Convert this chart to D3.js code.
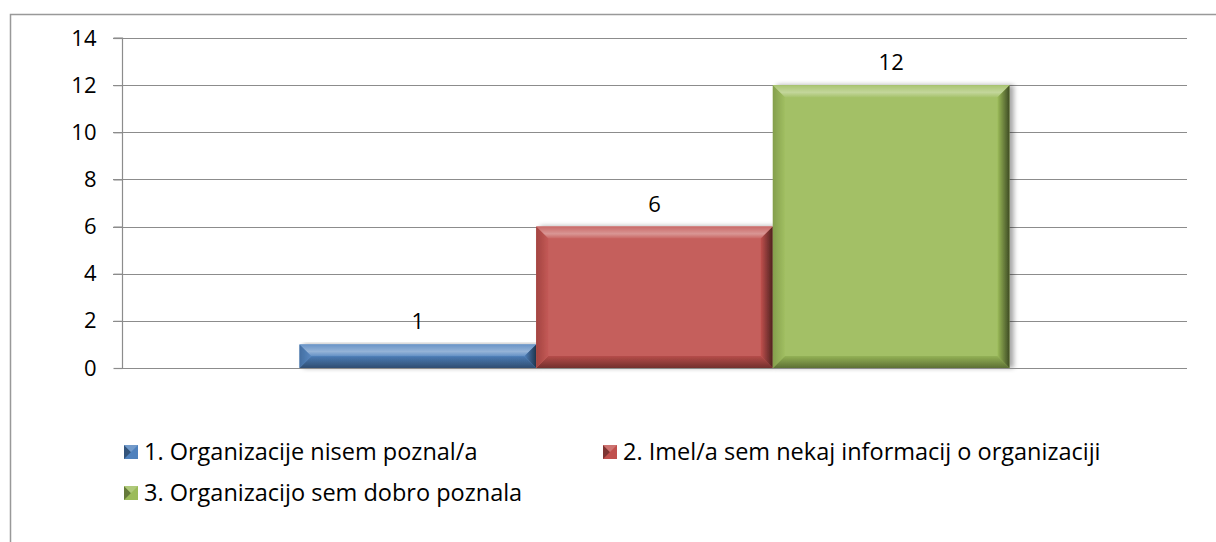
<!DOCTYPE html>
<html><head><meta charset="utf-8">
<script src="https://cdn.jsdelivr.net/npm/d3@7"></script>
<style>body{margin:0;background:#fff}svg{display:block}text{font-family:"Open Sans",sans-serif;fill:#000}</style>
</head><body>
<svg id="c" width="1216" height="542"></svg>
<script>
const seriesNames = ["1. Organizacije nisem poznal/a","2. Imel/a sem nekaj informacij o organizaciji","3. Organizacijo sem dobro poznala"];
const seriesValues = [1, 6, 12];
const seriesColors = ["#4F81BD","#C0504D","#9BBB59"];
const yTicks = [0,2,4,6,8,10,12,14];

const svg = d3.select("#c");
const defs = svg.append("defs");
const f = defs.append("filter").attr("id","sh").attr("x","-10%").attr("y","-10%").attr("width","130%").attr("height","130%");
f.append("feGaussianBlur").attr("in","SourceAlpha").attr("stdDeviation",2.5).attr("result","b");
f.append("feOffset").attr("dx",4).attr("dy",0).attr("result","o");
f.append("feComponentTransfer").append("feFuncA").attr("type","linear").attr("slope",0.35);
const m = f.append("feMerge"); m.append("feMergeNode"); m.append("feMergeNode").attr("in","SourceGraphic");

svg.append("rect").attr("x",10.5).attr("y",14.5).attr("width",1220).attr("height",560).attr("fill","none").attr("stroke","#999").attr("stroke-width",1.5);

const L = 122, R = 1187, T = 38, B = 368;
const y = d3.scaleLinear().domain([0,14]).range([B,T]);
const x0 = d3.scaleBand().domain(["c"]).range([L,R]).paddingInner(0).paddingOuter(0.25);
const x1 = d3.scaleBand().domain(seriesNames).range([x0("c"), x0("c")+x0.bandwidth()]);

svg.append("g").selectAll("line").data(yTicks.filter(d=>d>0)).join("line")
  .attr("x1",L-9).attr("x2",R).attr("y1",d=>Math.round(y(d))+0.5).attr("y2",d=>Math.round(y(d))+0.5)
  .attr("stroke","#8c8c8c").attr("stroke-width",1.2);
const ya = svg.append("g").attr("transform",`translate(${L+0.5},0)`)
  .call(d3.axisLeft(y).tickValues(yTicks).tickSize(9).tickPadding(17));
ya.select(".domain").attr("stroke","#8c8c8c").attr("stroke-width",1.2).attr("d",`M-9,${T}H0V${B}`);
ya.selectAll(".tick line").attr("stroke","#8c8c8c").attr("stroke-width",1.2);
ya.selectAll(".tick text").style("font-size","22px").style("font-family","'Open Sans',sans-serif").attr("fill","#000");

function shade(c,k){return k>0? d3.interpolateRgb(c,"#fff")(k) : d3.interpolateRgb(c,"#000")(-k);}

const bars = svg.append("g");
seriesNames.forEach((s,i)=>{
  const v = seriesValues[i], c = seriesColors[i];
  const bx = x1(s), bw = x1.bandwidth(), by = y(v), bh = y(0)-y(v);
  const g = bars.append("g").attr("filter","url(#sh)");
  const face = shade(c,0.08);
  g.append("rect").attr("x",bx).attr("y",by).attr("width",bw).attr("height",bh).attr("fill",face);
  const b = Math.min(12, bh/2);
  const gt = defs.append("linearGradient").attr("id","gt"+i).attr("x1",0).attr("y1",0).attr("x2",0).attr("y2",1);
  gt.append("stop").attr("offset",0).attr("stop-color",shade(c,0.15));
  gt.append("stop").attr("offset",0.6).attr("stop-color",shade(c,0.4));
  gt.append("stop").attr("offset",1).attr("stop-color",shade(c,0.12));
  g.append("path").attr("d",`M${bx},${by}H${bx+bw}L${bx+bw-b},${by+b}H${bx+b}Z`).attr("fill",`url(#gt${i})`);
  const gb = defs.append("linearGradient").attr("id","gb"+i).attr("x1",0).attr("y1",0).attr("x2",0).attr("y2",1);
  gb.append("stop").attr("offset",0).attr("stop-color",shade(c,-0.05));
  gb.append("stop").attr("offset",1).attr("stop-color",shade(c,-0.4));
  g.append("path").attr("d",`M${bx},${by+bh}H${bx+bw}L${bx+bw-b},${by+bh-b}H${bx+b}Z`).attr("fill",`url(#gb${i})`);
  const gl = defs.append("linearGradient").attr("id","gl"+i).attr("x1",0).attr("y1",0).attr("x2",1).attr("y2",0);
  gl.append("stop").attr("offset",0).attr("stop-color",shade(c,-0.15));
  gl.append("stop").attr("offset",1).attr("stop-color",shade(c,0.05));
  g.append("path").attr("d",`M${bx},${by}L${bx+b},${by+b}V${by+bh-b}L${bx},${by+bh}Z`).attr("fill",`url(#gl${i})`);
  const gr = defs.append("linearGradient").attr("id","gr"+i).attr("x1",0).attr("y1",0).attr("x2",1).attr("y2",0);
  gr.append("stop").attr("offset",0).attr("stop-color",shade(c,0.0));
  gr.append("stop").attr("offset",1).attr("stop-color",shade(c,-0.6));
  g.append("path").attr("d",`M${bx+bw},${by}L${bx+bw-b},${by+b}V${by+bh-b}L${bx+bw},${by+bh}Z`).attr("fill",`url(#gr${i})`);
  svg.append("text").attr("x",bx+bw/2).attr("y",by-15).attr("text-anchor","middle").style("font-size","22px").text(v);
});

svg.append("line").attr("x1",L).attr("x2",R).attr("y1",B+0.5).attr("y2",B+0.5).attr("stroke","#8c8c8c").attr("stroke-width",1.2);

const legPos = [[124,452],[603,452],[124,493]];
seriesNames.forEach((s,i)=>{
  const [lx,ly] = legPos[i], c = seriesColors[i], sz=14;
  const g = svg.append("g");
  g.append("rect").attr("x",lx).attr("y",ly-sz/2).attr("width",sz).attr("height",sz).attr("fill",c);
  g.append("path").attr("d",`M${lx},${ly-sz/2}L${lx+sz/2},${ly}L${lx},${ly+sz/2}Z`).attr("fill",shade(c,-0.35));
  g.append("path").attr("d",`M${lx},${ly-sz/2}H${lx+sz}L${lx+sz/2},${ly}Z`).attr("fill",shade(c,0.2));
  svg.append("text").attr("x",lx+20).attr("y",ly+8).style("font-size","23.5px").text(s);
});
</script></body></html>
